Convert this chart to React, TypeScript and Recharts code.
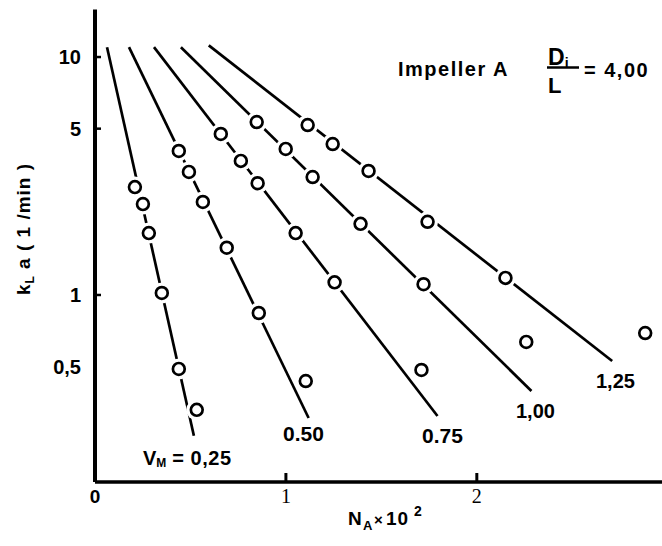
import React from 'react';
import { ComposedChart, Scatter, XAxis, YAxis } from 'recharts';

// Measured points (N_A x 10^2, kLa in 1/min) for each V_M
const vm025 = [
  { x: 0.209, y: 2.84 }, { x: 0.251, y: 2.41 }, { x: 0.282, y: 1.82 },
  { x: 0.35, y: 1.02 }, { x: 0.439, y: 0.489 }, { x: 0.533, y: 0.329 },
];
const vm050 = [
  { x: 0.439, y: 4.03 }, { x: 0.492, y: 3.29 }, { x: 0.565, y: 2.46 },
  { x: 0.69, y: 1.58 }, { x: 0.858, y: 0.84 }, { x: 1.104, y: 0.435 },
];
const vm075 = [
  { x: 0.659, y: 4.75 }, { x: 0.764, y: 3.66 }, { x: 0.852, y: 2.95 },
  { x: 1.051, y: 1.82 }, { x: 1.255, y: 1.13 }, { x: 1.71, y: 0.484 },
];
const vm100 = [
  { x: 0.847, y: 5.33 }, { x: 0.999, y: 4.11 }, { x: 1.14, y: 3.13 },
  { x: 1.391, y: 1.99 }, { x: 1.721, y: 1.11 }, { x: 2.259, y: 0.635 },
];
const vm125 = [
  { x: 1.114, y: 5.18 }, { x: 1.245, y: 4.31 }, { x: 1.433, y: 3.32 },
  { x: 1.742, y: 2.03 }, { x: 2.15, y: 1.18 }, { x: 2.882, y: 0.692 },
];

// Fitted straight lines (semi-log), start and end
const fit025 = [{ x: 0.063, y: 11.0 }, { x: 0.518, y: 0.256 }];
const fit050 = [{ x: 0.178, y: 11.0 }, { x: 1.119, y: 0.304 }];
const fit075 = [{ x: 0.309, y: 11.0 }, { x: 1.794, y: 0.31 }];
const fit100 = [{ x: 0.45, y: 11.0 }, { x: 2.286, y: 0.395 }];
const fit125 = [{ x: 0.596, y: 11.2 }, { x: 2.709, y: 0.528 }];

const xTicks = [0, 1, 2];
const yTicks = [0.5, 1, 5, 10];
const yTickLabels: Record<number, string> = { 0.5: '0,5', 1: '1', 5: '5', 10: '10' };

const allPoints = [...vm025, ...vm050, ...vm075, ...vm100, ...vm125];
const fits = [fit025, fit050, fit075, fit100, fit125];

const SANS = 'Liberation Sans, Arial, sans-serif';
const SERIF = 'Liberation Serif, Times New Roman, serif';

const Halo = (p: any) => <circle cx={p.cx} cy={p.cy} r={10.5} fill="#fff" />;
const Ring = (p: any) => (
  <circle cx={p.cx} cy={p.cy} r={5.9} fill="#fff" stroke="#000" strokeWidth={2.7} />
);
const NoDot = () => <g />;

const XTick = (p: any) => {
  const v = p.payload.value;
  return (
    <g>
      {v !== 0 && <line x1={p.x} x2={p.x} y1={p.y} y2={p.y - 9} stroke="#000" strokeWidth={3} />}
      <text
        x={p.x}
        y={p.y + 21}
        textAnchor="middle"
        fontFamily={v === 0 ? SANS : SERIF}
        fontWeight={v === 0 ? 'bold' : 'normal'}
        fontSize={v === 0 ? 19 : 20}
        fill="#000"
      >
        {v}
      </text>
    </g>
  );
};

const YTick = (p: any) => {
  const v = p.payload.value;
  return (
    <g>
      {v !== 0.5 && <line x1={p.x} x2={p.x + 6} y1={p.y} y2={p.y} stroke="#000" strokeWidth={2.5} />}
      <text x={p.x - 14} y={p.y + 7} textAnchor="end" fontFamily={SANS} fontWeight="bold" fontSize={20} fill="#000">
        {yTickLabels[v]}
      </text>
    </g>
  );
};

const lbl = { fontFamily: SANS, fontWeight: 'bold' as const, fill: '#000' };

export default function App() {
  return (
    <div style={{ position: 'absolute', left: 0, top: 0, width: 662, height: 546, background: '#fff' }}>
      <ComposedChart width={662} height={546} margin={{ top: 9.5, right: 0, bottom: 24, left: 0 }}>
        <XAxis
          xAxisId={0}
          type="number"
          dataKey="x"
          domain={[0, 2.97]}
          allowDataOverflow
          ticks={xTicks}
          height={40}
          tickSize={0}
          tickMargin={0}
          tickLine={false}
          axisLine={{ stroke: '#000', strokeWidth: 3.5 }}
          tick={<XTick />}
          interval={0}
        />
        <XAxis
          xAxisId="top"
          orientation="top"
          type="number"
          domain={[0, 2.97]}
          height={0}
          tick={false}
          tickLine={false}
          axisLine={{ stroke: '#000', strokeWidth: 4 }}
        />
        <YAxis
          type="number"
          dataKey="y"
          scale="log"
          domain={[0.1637, 15.84]}
          allowDataOverflow
          ticks={yTicks}
          width={95}
          tickSize={0}
          tickMargin={0}
          tickLine={false}
          axisLine={{ stroke: '#000', strokeWidth: 4 }}
          tick={<YTick />}
          interval={0}
        />
        {fits.map((f, i) => (
          <Scatter
            key={'fit' + i}
            data={f}
            line={{ stroke: '#000', strokeWidth: 2.7 }}
            shape={NoDot}
            isAnimationActive={false}
          />
        ))}
        <Scatter data={allPoints} shape={Halo} isAnimationActive={false} />
        <Scatter data={allPoints} shape={Ring} isAnimationActive={false} />
      </ComposedChart>
      <svg width={662} height={546} style={{ position: 'absolute', left: 0, top: 0, pointerEvents: 'none' }}>
        <text x={398} y={76} fontSize={20} letterSpacing={1.5} {...lbl}>Impeller A</text>
        <text x={548} y={65} fontSize={23} {...lbl}>
          D<tspan fontSize={14} dy={3}>i</tspan>
        </text>
        <line x1={547} x2={579} y1={67.5} y2={67.5} stroke="#000" strokeWidth={2.5} />
        <text x={548} y={93} fontSize={22} {...lbl}>L</text>
        <text x={584} y={77} fontSize={20} letterSpacing={1.5} {...lbl}>= 4,00</text>

        <text x={143} y={465} fontSize={20} {...lbl}>
          V<tspan fontSize={12} dy={2}>M</tspan>
          <tspan dy={-2} dx={6} letterSpacing={0.5}>= 0,25</tspan>
        </text>
        <text x={283} y={441} fontSize={21} {...lbl}>0.50</text>
        <text x={422} y={443} fontSize={21} {...lbl}>0.75</text>
        <text x={516} y={418} fontSize={20} {...lbl}>1,00</text>
        <text x={596} y={388} fontSize={20} {...lbl}>1,25</text>

        <text transform="translate(30,229) rotate(-90)" textAnchor="middle" fontSize={19} letterSpacing={1} {...lbl}>
          k<tspan fontSize={12} dy={4}>L</tspan>
          <tspan dy={-4}> a ( 1 /min )</tspan>
        </text>
        <text x={348} y={525} fontSize={19} {...lbl}>N</text>
        <text x={363} y={530} fontSize={13} {...lbl}>A</text>
        <text x={374} y={525} fontSize={15} {...lbl}>×</text>
        <text x={386} y={525} fontSize={19} letterSpacing={1} {...lbl}>10</text>
        <text x={414} y={516} fontSize={14} {...lbl}>2</text>
      </svg>
    </div>
  );
}
